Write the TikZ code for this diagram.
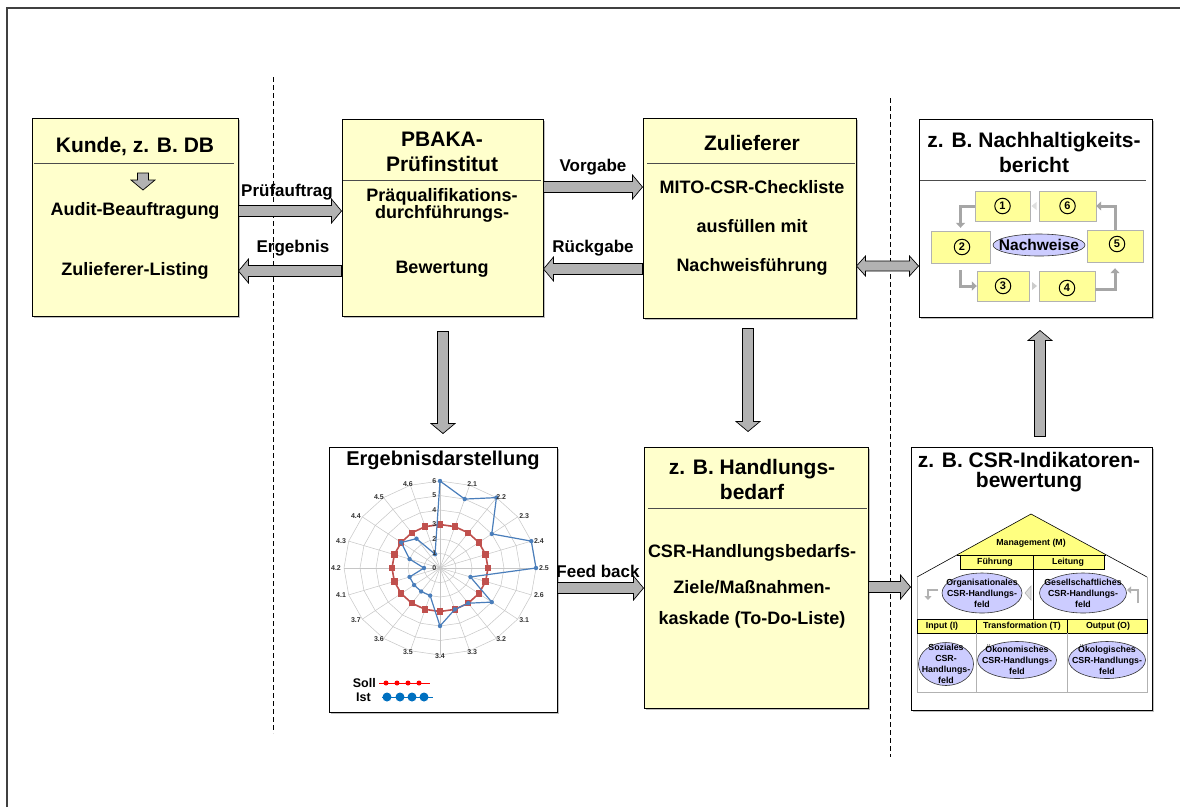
\documentclass[tikz,border=0pt]{standalone}
\usepackage{fontspec}
\setmainfont{Liberation Sans}
\usetikzlibrary{calc,arrows.meta,shadows}
\definecolor{boxyellow}{HTML}{FFFFCC}
\definecolor{stepyellow}{HTML}{FFFF99}
\definecolor{roofyellow}{HTML}{FFFF80}
\definecolor{arrowgray}{HTML}{B2B2B2}
\definecolor{lavender}{HTML}{CCCCFF}
\definecolor{sollred}{HTML}{C0504D}
\definecolor{istblue}{HTML}{4A7EBB}
\definecolor{legblue}{HTML}{0070C0}

\begin{document}
\begin{tikzpicture}[x=1pt, y=-1pt,
  panel/.style={draw, line width=1pt, fill=boxyellow, inner sep=0pt,
    drop shadow={shadow xshift=1.5pt, shadow yshift=-1.5pt, opacity=0.5}},
  plainpanel/.style={panel, fill=white},
  sepline/.style={draw=black!70, line width=1pt},
  titletext/.style={font=\fontsize{21}{25}\selectfont\bfseries, align=center, inner sep=0pt},
  bodytext/.style={font=\fontsize{18}{17}\selectfont\bfseries, align=center, inner sep=0pt},
  flowlab/.style={font=\fontsize{17}{20}\selectfont\bfseries, inner sep=0pt},
  fatarrow/.style={draw=black, line width=0.7pt, fill=arrowgray, to path={
    ($(\tikztostart)!5.5pt!90:(\tikztotarget)$)
    -- ($(\tikztotarget)!10pt!(\tikztostart)!5.5pt!-90:(\tikztostart)$)
    -- ($(\tikztotarget)!10pt!(\tikztostart)!12pt!-90:(\tikztostart)$)
    -- (\tikztotarget)
    -- ($(\tikztotarget)!10pt!(\tikztostart)!12pt!90:(\tikztostart)$)
    -- ($(\tikztotarget)!10pt!(\tikztostart)!5.5pt!90:(\tikztostart)$)
    -- ($(\tikztostart)!5.5pt!-90:(\tikztotarget)$)
    -- cycle}},
  fatboth/.style={draw=black, line width=0.7pt, fill=arrowgray, to path={
    ($(\tikztostart)!9pt!(\tikztotarget)!5pt!90:(\tikztotarget)$)
    -- ($(\tikztotarget)!9pt!(\tikztostart)!5pt!-90:(\tikztostart)$)
    -- ($(\tikztotarget)!9pt!(\tikztostart)!10pt!-90:(\tikztostart)$)
    -- (\tikztotarget)
    -- ($(\tikztotarget)!9pt!(\tikztostart)!10pt!90:(\tikztostart)$)
    -- ($(\tikztotarget)!9pt!(\tikztostart)!5pt!90:(\tikztostart)$)
    -- ($(\tikztostart)!9pt!(\tikztotarget)!5pt!-90:(\tikztotarget)$)
    -- ($(\tikztostart)!9pt!(\tikztotarget)!10pt!-90:(\tikztotarget)$)
    -- (\tikztostart)
    -- ($(\tikztostart)!9pt!(\tikztotarget)!10pt!90:(\tikztotarget)$)
    -- cycle}},
  divider/.style={dash pattern=on 5pt off 3pt, line width=0.6pt},
  stepbox/.style={draw=gray!60, fill=stepyellow, inner sep=0pt, minimum width=55pt, minimum height=30pt},
  numring/.style={circle, draw, line width=1pt, inner sep=0pt, minimum size=15.5pt, font=\fontsize{11}{11}\selectfont\bfseries},
  looparrow/.style={draw=gray!70, line width=3pt, -{Triangle[length=5pt,width=9pt]}},
  housetext/.style={font=\fontsize{8.8}{11}\selectfont\bfseries, align=center, inner sep=0pt},
  fieldfill/.style={draw=black!80, fill=lavender, line width=0.6pt},
  smallgray/.style={draw=gray!60, line width=2.5pt, -{Triangle[length=4pt,width=7pt]}},
  gridline/.style={draw=gray!45, line width=0.5pt},
  axislab/.style={font=\fontsize{7}{7}\selectfont\bfseries, text=black!80, inner sep=0pt},
]
\useasboundingbox (0,0) rectangle (1180,807);

% frame and dividers
\draw[line width=1.2pt, black!75] (7,807) -- (7,8) -- (1180,8);
\draw[divider] (273,77) -- (273,733);
\draw[divider] (890,98) -- (890,757);

% top row
\node[panel, minimum width=206pt, minimum height=198pt] (kunde) at (135,217) {};
\node[panel, minimum width=201pt, minimum height=197pt] (pbaka) at (442.5,217.5) {};
\node[panel, minimum width=213pt, minimum height=200pt] (zulief) at (749.5,218) {};
\node[plainpanel, minimum width=233pt, minimum height=198pt] (bericht) at (1035.5,218) {};

% bottom row
\node[plainpanel, minimum width=228pt, minimum height=265pt] (ergebnis) at (443,579.5) {};
\node[panel, minimum width=224pt, minimum height=261pt] (bedarf) at (756,577.5) {};
\node[plainpanel, minimum width=241pt, minimum height=263pt] (indik) at (1031.5,578.5) {};

% separators
\draw[sepline] (34,163) -- (234,163);
\draw[sepline] (343,180) -- (541,180);
\draw[sepline] (647,163) -- (855,163);
\draw[sepline] (920,180) -- (1146,180);
\draw[sepline] (648,508) -- (867,508);

% Kunde
\node[titletext] (kundeT) at (135,147) {Kunde, z. B. DB};
\node[bodytext] (kundeB1) at (135,211) {Audit-Beauftragung};
\node[bodytext] (kundeB2) at (135,271) {Zulieferer-Listing};
\coordinate (ka1) at (143,173);
\coordinate (ka2) at (143,190);
\draw[fatarrow] (ka1) to (ka2);

% PBAKA
\node[titletext] (pbakaT) at (442,151.5) {PBAKA-\\Prüfinstitut};
\node[bodytext] (pbakaB1) at (442,205) {Präqualifikations-\\durchführungs-};
\node[bodytext] (pbakaB2) at (442,269) {Bewertung};

% Zulieferer
\node[titletext] (zuliefT) at (752,143) {Zulieferer};
\node[bodytext] (zuliefB1) at (752,187) {MITO-CSR-Checkliste};
\node[bodytext] (zuliefB2) at (752,226) {ausfüllen mit};
\node[bodytext] (zuliefB3) at (752,267) {Nachweisführung};

% Bericht
\node[titletext] (berichtT) at (1034,152.5) {z. B. Nachhaltigkeits-\\bericht};
\node[stepbox] (s1) at (1002.5,206) {};
\node[stepbox, minimum width=57pt] (s6) at (1067.5,206) {};
\node[stepbox, minimum width=59pt, minimum height=32pt] (s2) at (960.5,247) {};
\node[stepbox, minimum width=56pt, minimum height=32pt] (s5) at (1115,246) {};
\node[stepbox, minimum width=52pt] (s3) at (1003,286) {};
\node[stepbox, minimum width=56pt] (s4) at (1067,286) {};
\node[numring] (n1) at (s1) {1};
\node[numring] (n6) at (s6) {6};
\node[numring] (n2) at (962,247) {2};
\node[numring] (n5) at (1117,244) {5};
\node[numring] (n3) at (s3) {3};
\node[numring] (n4) at (1067,288) {4};
\draw[fieldfill] (1039,245) ellipse [x radius=46, y radius=11];
\node[font=\fontsize{15.5}{16}\selectfont\bfseries, inner sep=0pt] (nachweis) at (1039,245) {Nachweise};
\draw[looparrow, shorten >=3pt] (s1.west) -| (s2.north);
\draw[looparrow, shorten <=7pt] (s2.south) |- (s3.west);
\draw[looparrow, shorten >=6pt] (s4.east |- 0,289) -| (s5.south);
\draw[looparrow] (s5.north) |- (s6.east);
\fill[gray!40] ($(s3.east)!0.5!(s4.west)+(-2,-4)$) -- ++(5,4) -- ++(-5,4) -- cycle;
\fill[gray!25] ($(s6.west)!0.5!(s1.east)+(2,-4)$) -- ++(-5,4) -- ++(5,4) -- cycle;

% Ergebnisdarstellung
\node[font=\fontsize{20}{24}\selectfont\bfseries, inner sep=0pt] (ergebnisT) at (443,460) {Ergebnisdarstellung};
\begin{scope}[shift={(440,568)}, x=16pt, y=14.5pt]
  \foreach \r in {1,...,6}
    \draw[gridline] (90:\r) \foreach \k in {1,...,19} { -- ({90-18*\k}:\r) } -- cycle;
  \foreach \k in {0,...,19}
    \draw[gridline] (0,0) -- ({90-18*\k}:6);
  \draw[sollred, line width=1.6pt] (90:3) \foreach \k in {1,...,19} { -- ({90-18*\k}:3) } -- cycle;
  \foreach \k in {0,...,19}
    \fill[sollred] ({90-18*\k}:3) ++(-3.2pt,-3.2pt) rectangle ++(6.4pt,6.4pt);
  \draw[istblue, line width=1.2pt] (90:6)
    \foreach \v [count=\k from 1] in {5,6,4,6,6,2,4,3,3,4,2,2,2,2,1,2,3,2.5,1} { -- ({90-18*\k}:\v) } -- cycle;
  \foreach \v [count=\k from 0] in {6,5,6,4,6,6,2,4,3,3,4,2,2,2,2,1,2,3,2.5,1}
    \fill[istblue] ({90-18*\k}:\v) circle (2.2pt);
  \foreach \r in {0,...,6}
    \node[axislab] (sc\r) at (-0.35,\r) {\r};
  \foreach \t [count=\k] in {2.1,2.2,2.3,2.4,2.5,2.6,3.1,3.2,3.3,3.4,3.5,3.6,3.7,4.1,4.2,4.3,4.4,4.5,4.6}
    \node[axislab] (ax\k) at ({6.5*cos(90-18*\k)},{6.07*sin(90-18*\k)}) {\t};
\end{scope}
\node[font=\fontsize{12.5}{14}\selectfont\bfseries, anchor=east, inner sep=0pt] (soll) at (376,683) {Soll};
\node[font=\fontsize{12.5}{14}\selectfont\bfseries, anchor=east, inner sep=0pt] (ist) at (371,697) {Ist};
\draw[red, line width=1pt] ([xshift=3pt]soll.east) -- ++(51,0);
\foreach \x in {386,397,408,419}
  \fill[red] (\x,683) circle (2.5pt);
\draw[legblue, line width=1pt] ([xshift=11pt]ist.east) -- ++(51,0);
\foreach \x in {387,400,412,424}
  \fill[legblue] (\x,697) circle (4.5pt);

% Handlungsbedarf
\node[titletext] (bedarfT) at (752,479.5) {z. B. Handlungs-\\bedarf};
\node[bodytext] (bedarfB1) at (752,553) {CSR-Handlungsbedarfs-};
\node[bodytext] (bedarfB2) at (752,587) {Ziele/Maßnahmen-};
\node[bodytext] (bedarfB3) at (752,620) {kaskade (To-Do-Liste)};

% CSR-Indikatoren
\node[font=\fontsize{21}{20}\selectfont\bfseries, align=center, inner sep=0pt] (indikT) at (1029,472.5) {z. B. CSR-Indikatoren-\\bewertung};
\fill[roofyellow] (1031,514) -- (957,555) -- (1106,555) -- cycle;
\draw[line width=0.6pt] (917,577) -- (1031,514) -- (1147,577);
\draw[line width=0.6pt] (957,555) -- (1106,555);
\draw[line width=0.6pt, fill=roofyellow] (960,555) rectangle (1104,569);
\draw[line width=0.6pt] (1033,555) -- (1033,619);
\draw[gray!60, line width=0.6pt] (917,577) -- (917,692) -- (1147,692) -- (1147,577);
\draw[line width=0.6pt, fill=roofyellow] (917,619) rectangle (1147,633);
\draw[line width=0.6pt] (976,619) -- (976,633) (1067,619) -- (1067,633);
\draw[gray!60, line width=0.6pt] (976,633) -- (976,692) (1067,633) -- (1067,692);
\node[housetext] (mgmt) at (1031,543) {Management (M)};
\node[housetext] (fuehr) at (995,562) {Führung};
\node[housetext] (leit) at (1068,562) {Leitung};
\node[housetext] (inp) at (942,626) {Input (I)};
\node[housetext] (trans) at (1022,626) {Transformation (T)};
\node[housetext] (outp) at (1108,626) {Output (O)};
\draw[fieldfill] (982,593) ellipse [x radius=40, y radius=20];
\draw[fieldfill] (1083,593) ellipse [x radius=43.5, y radius=20];
\draw[fieldfill] (946,664) ellipse [x radius=27.5, y radius=21.5];
\draw[fieldfill] (1017,660) ellipse [x radius=39.5, y radius=18.5];
\draw[fieldfill] (1107,660) ellipse [x radius=38.5, y radius=18.5];
\node[housetext] (orgf) at (982,593) {Organisationales\\CSR-Handlungs-\\feld};
\node[housetext] (gesf) at (1083,593) {Gesellschaftliches\\CSR-Handlungs-\\feld};
\node[housetext] (sozf) at (946,664) {Soziales\\CSR-\\Handlungs-\\feld};
\node[housetext] (oekof) at (1017,660) {Ökonomisches\\CSR-Handlungs-\\feld};
\node[housetext] (oekol) at (1107,660) {Ökologisches\\CSR-Handlungs-\\feld};
\draw[smallgray] (938,590) -- (928,590) -- (928,600);
\draw[smallgray] (1138,603) -- (1138,590) -- (1127,590);
\draw[gray!60, fill=gray!25, line width=0.6pt] (1031,586) -- (1025,593) -- (1031,600) -- cycle;

% flows between the boxes
\draw[fatarrow] (kunde.east |- 0,211) to (pbaka.west |- 0,211);
\node[flowlab] (pruef) at (287,192) {Prüfauftrag};
\draw[fatarrow] (pbaka.west |- 0,271) to (kunde.east |- 0,271);
\node[flowlab] (ergeb) at (293,248) {Ergebnis};
\draw[fatarrow] (pbaka.east |- 0,187) to (zulief.west |- 0,187);
\node[flowlab] (vorg) at (593,167) {Vorgabe};
\draw[fatarrow] (zulief.west |- 0,269) to (pbaka.east |- 0,269);
\node[flowlab] (rueck) at (593,248) {Rückgabe};
\draw[fatboth] (zulief.east |- 0,266) to (bericht.west |- 0,266);
\coordinate (d1a) at ($(pbaka.south)+(0.5,15)$);
\coordinate (d1b) at ($(pbaka.south |- ergebnis.north)+(0.5,-13)$);
\draw[fatarrow] (d1a) to (d1b);
\coordinate (d2a) at ($(zulief.south)+(-1.5,10)$);
\coordinate (d2b) at ($(zulief.south |- bedarf.north)+(-1.5,-15)$);
\draw[fatarrow] (d2a) to (d2b);
\coordinate (u1a) at ($(bericht.south |- indik.north)+(4.5,-10)$);
\coordinate (u1b) at ($(bericht.south)+(4.5,13)$);
\draw[fatarrow] (u1a) to (u1b);
\draw[fatarrow] (ergebnis.east |- 0,588) to (bedarf.west |- 0,588);
\node[flowlab] (feed) at (598,571) {Feed back};
\draw[fatarrow] (bedarf.east |- 0,587) to (indik.west |- 0,587);
\end{tikzpicture}
\end{document}
